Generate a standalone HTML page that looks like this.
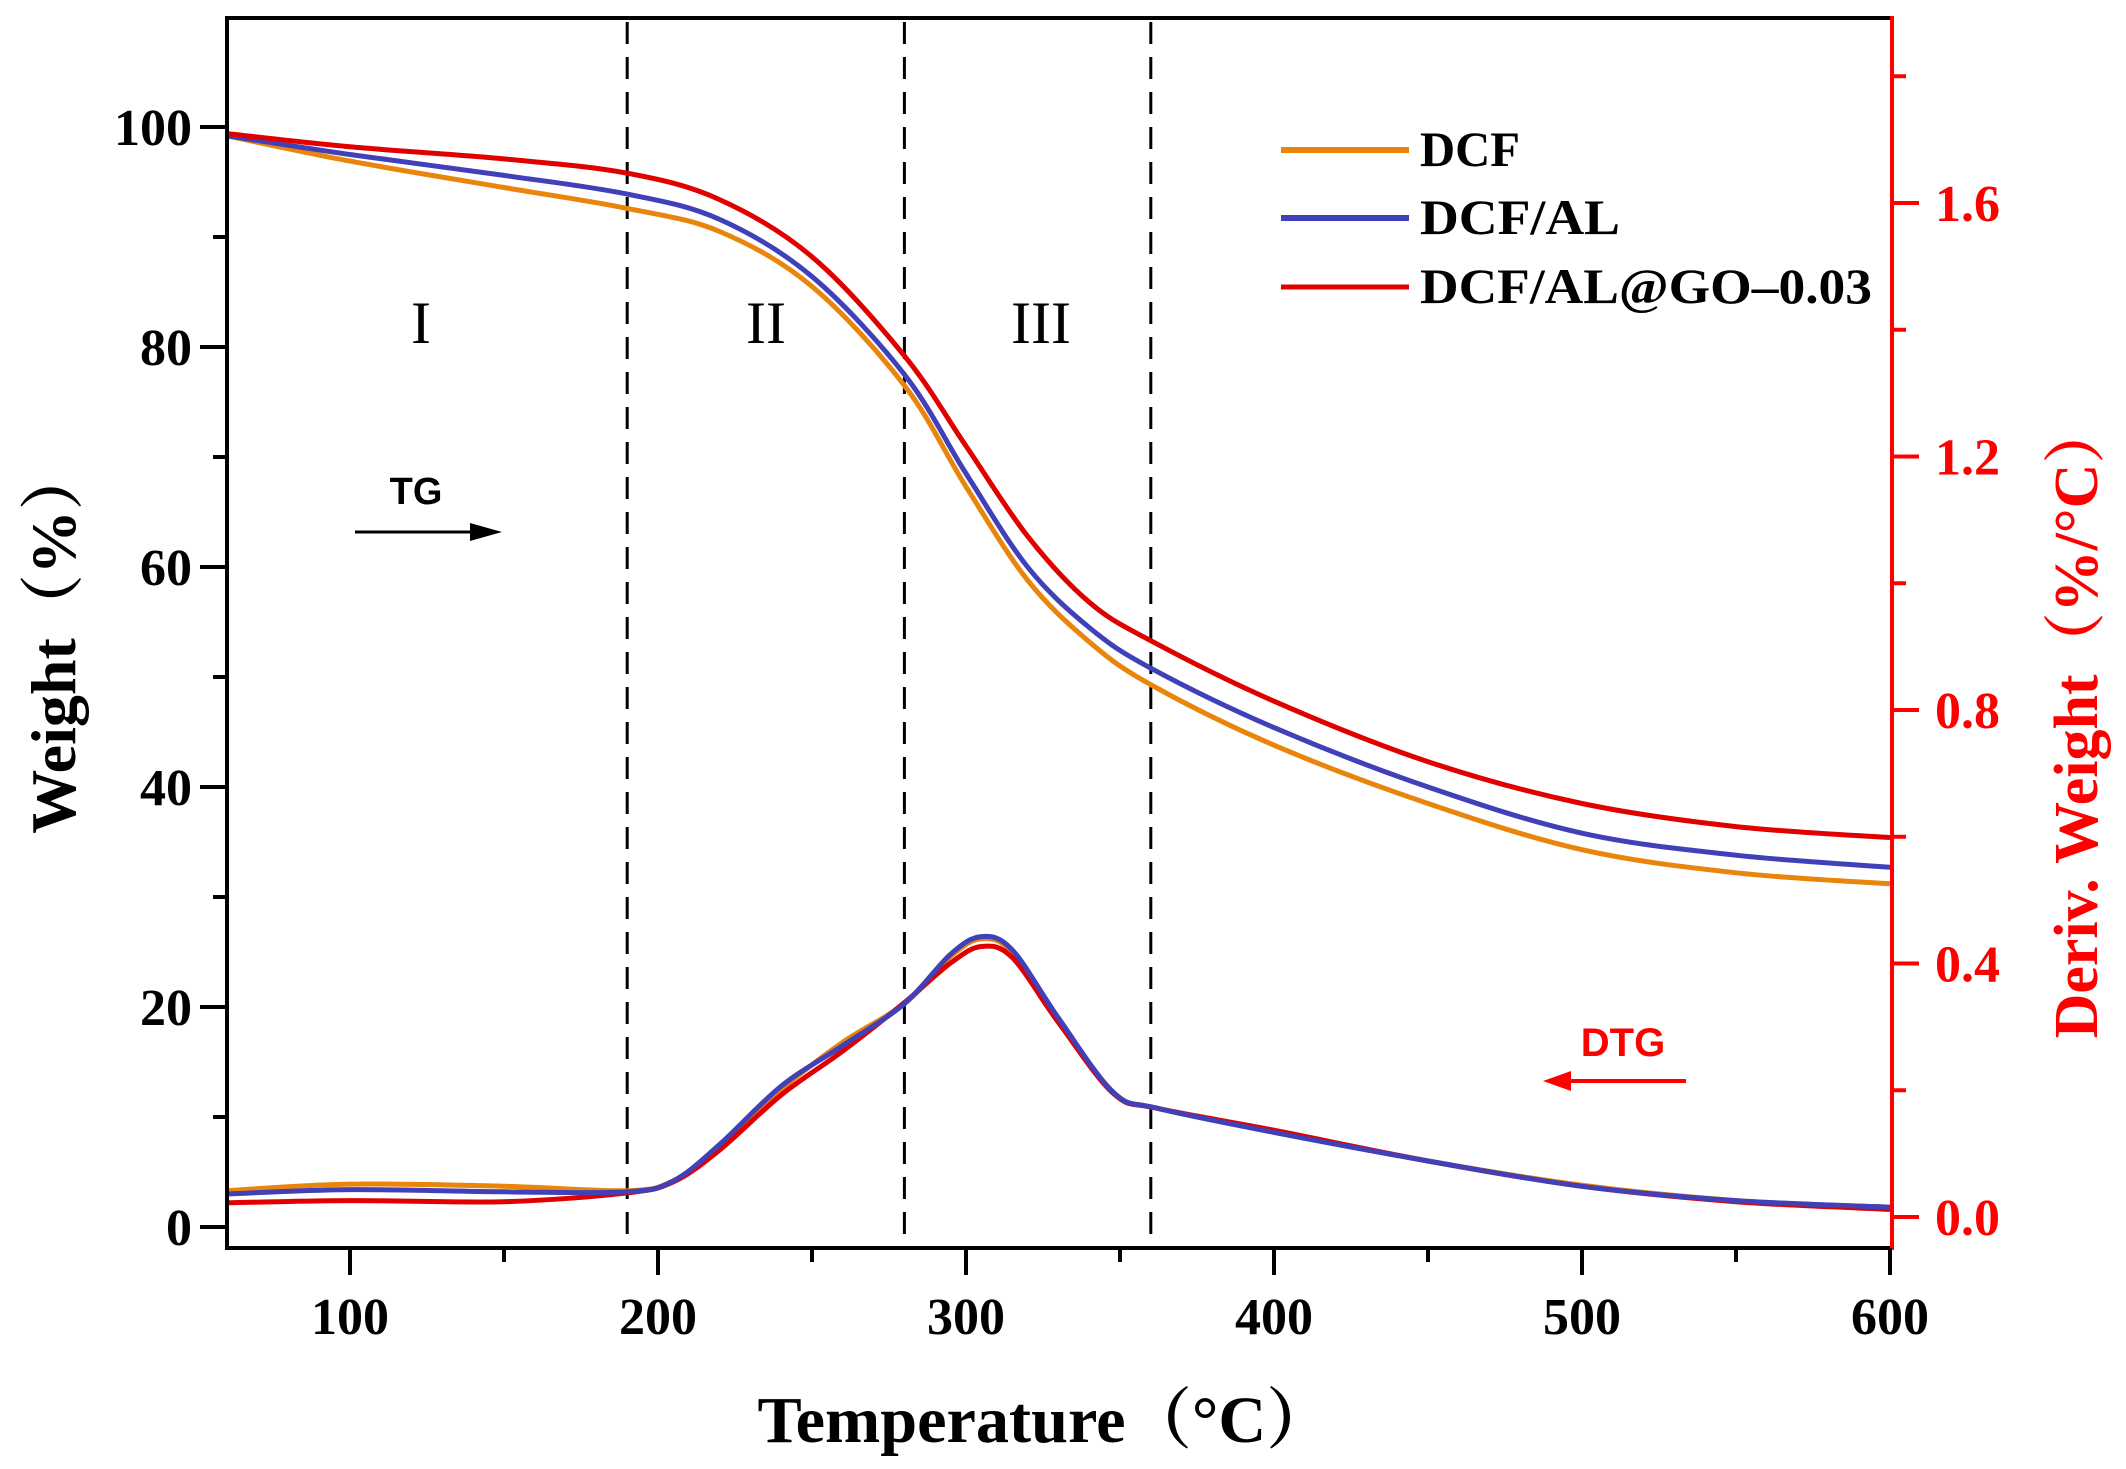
<!DOCTYPE html>
<html><head><meta charset="utf-8"><style>
html,body{margin:0;padding:0;background:#fff;}
svg{display:block}
.s{font-family:"Liberation Serif","Noto Serif CJK SC",serif;}
.a{font-family:"Liberation Sans",sans-serif;}
</style></head><body>
<svg id="s" width="2126" height="1469" viewBox="0 0 2126 1469" xmlns="http://www.w3.org/2000/svg">
<rect width="2126" height="1469" fill="#fff"/>
<g id="plot"></g>
<line x1="227" y1="18" x2="1892" y2="18" stroke="#000" stroke-width="4"/>
<line x1="227" y1="16" x2="227" y2="1250" stroke="#000" stroke-width="4"/>
<line x1="225" y1="1248" x2="1892" y2="1248" stroke="#000" stroke-width="4"/>
<line x1="1892" y1="16" x2="1892" y2="1250" stroke="#f00" stroke-width="4"/>
<g id="ticks" class="s"></g>
<line x1="1281" y1="150" x2="1409" y2="150" stroke="#e8850a" stroke-width="6"/>
<line x1="1281" y1="218" x2="1409" y2="218" stroke="#4040b8" stroke-width="6"/>
<line x1="1281" y1="287" x2="1409" y2="287" stroke="#e00000" stroke-width="5"/>
<g class="s" font-weight="bold" font-size="50">
<text x="1420" y="166" textLength="100" lengthAdjust="spacingAndGlyphs">DCF</text>
<text x="1420" y="234" textLength="200" lengthAdjust="spacingAndGlyphs">DCF/AL</text>
<text x="1420" y="303" textLength="452" lengthAdjust="spacingAndGlyphs">DCF/AL@GO–0.03</text>
</g>
<g class="s" font-size="60" text-anchor="middle">
<text x="421" y="343">I</text>
<text x="766" y="343">II</text>
<text x="1041" y="343">III</text>
</g>
<text class="a" x="416" y="504" font-weight="bold" font-size="38" text-anchor="middle">TG</text>
<line x1="355" y1="532" x2="480" y2="532" stroke="#000" stroke-width="3"/>
<polygon points="502,532 470,523 470,541" fill="#000"/>
<text class="a" x="1623" y="1056" font-weight="bold" font-size="40" fill="#f00" text-anchor="middle">DTG</text>
<line x1="1686" y1="1081" x2="1565" y2="1081" stroke="#f00" stroke-width="4"/>
<polygon points="1543,1081 1571,1071 1571,1091" fill="#f00"/>
<text class="s" x="1045" y="1442" font-weight="bold" font-size="66" text-anchor="middle" textLength="575" lengthAdjust="spacingAndGlyphs">Temperature（°C）</text>
<text class="s" transform="translate(75,640) rotate(-90)" font-weight="bold" font-size="64" text-anchor="middle">Weight（%）</text>
<text class="s" transform="translate(2097,720) rotate(-90)" font-weight="bold" font-size="62" fill="#f00" text-anchor="middle">Deriv. Weight（%/°C）</text>
</svg>
<script>
const NS="http://www.w3.org/2000/svg";
const X=t=>350+(t-100)*3.08, Y=w=>1227-11*w, YR=d=>1217-633.75*d;
function el(p,tag,a,txt){const e=document.createElementNS(NS,tag);for(const k in a)e.setAttribute(k,a[k]);if(txt!=null)e.textContent=txt;p.appendChild(e);return e;}
function path(pts){const P=pts.map(p=>[X(p[0]),Y(p[1])]);let d="M"+P[0][0]+","+P[0][1];
for(let i=0;i<P.length-1;i++){const p0=P[Math.max(0,i-1)],p1=P[i],p2=P[i+1],p3=P[Math.min(P.length-1,i+2)];
d+=` C${p1[0]+(p2[0]-p0[0])/6},${p1[1]+(p2[1]-p0[1])/6} ${p2[0]-(p3[0]-p1[0])/6},${p2[1]-(p3[1]-p1[1])/6} ${p2[0]},${p2[1]}`;}return d;}
const g=document.getElementById("plot"), tk=document.getElementById("ticks");
[190,280,360].forEach(t=>el(g,"line",{x1:X(t),y1:22,x2:X(t),y2:1246,stroke:"#000","stroke-width":3,"stroke-dasharray":"22,13"}));
const O="#e8850a",B="#4040b8",R="#e00000";
const tgO=[[60,99.2],[100,96.9],[150,94.5],[190,92.6],[220,90.5],[250,85.5],[280,76.5],[300,67.3],[320,58.8],[340,53.2],[360,49.3],[400,43.8],[450,38.5],[500,34.3],[550,32.2],[600,31.2]];
const tgB=[[60,99.2],[100,97.5],[150,95.6],[190,93.9],[220,91.6],[250,86.4],[280,77.5],[300,68.5],[320,60],[340,54.5],[360,50.8],[400,45.4],[450,40],[500,35.8],[550,33.8],[600,32.7]];
const tgR=[[60,99.4],[100,98.2],[150,97.1],[190,95.8],[220,93.4],[250,88.2],[280,79.2],[300,71],[320,62.8],[340,56.8],[360,53.3],[400,47.8],[450,42.3],[500,38.5],[550,36.4],[600,35.4]];
const dO=[[60,3.3],[100,3.9],[150,3.7],[190,3.3],[205,4.2],[220,7.3],[240,12.5],[260,16.8],[280,20.3],[295,24.6],[305,26.2],[315,25],[330,18.8],[348,12.2],[362,10.8],[400,8.7],[450,6],[500,3.8],[550,2.4],[600,1.8]];
const dB=[[60,3],[100,3.4],[150,3.2],[190,3.2],[205,4.2],[220,7.5],[240,12.8],[260,16.5],[280,20.3],[295,24.8],[305,26.4],[315,25.2],[330,19],[348,12.2],[362,10.8],[400,8.6],[450,6],[500,3.7],[550,2.4],[600,1.8]];
const dR=[[60,2.2],[100,2.4],[150,2.3],[190,3.1],[205,4.1],[220,7],[240,12],[260,16],[280,20.4],[295,24],[305,25.5],[315,24.5],[330,18.6],[348,12.1],[362,10.8],[400,8.8],[450,6],[500,3.7],[550,2.3],[600,1.6]];
[[dO,O],[dR,R],[dB,B],[tgO,O],[tgB,B],[tgR,R]].forEach(([d,c])=>el(g,"path",{d:path(d),fill:"none",stroke:c,"stroke-width":5}));
for(let t=100;t<=600;t+=50){const maj=t%100==0;el(tk,"line",{x1:X(t),y1:1248,x2:X(t),y2:1248+(maj?27:14),stroke:"#000","stroke-width":4});
if(maj)el(tk,"text",{x:X(t),y:1334,"font-size":52,"font-weight":"bold","text-anchor":"middle"},t);}
for(let w=0;w<=100;w+=10){const maj=w%20==0;el(tk,"line",{x1:227-(maj?27:14),y1:Y(w),x2:227,y2:Y(w),stroke:"#000","stroke-width":4});
if(maj)el(tk,"text",{x:192,y:Y(w)+18,"font-size":52,"font-weight":"bold","text-anchor":"end"},w);}
for(let i=0;i<=9;i++){const d=i*0.2,maj=i%2==0;el(tk,"line",{x1:1892,y1:YR(d),x2:1892+(maj?27:14),y2:YR(d),stroke:"#f00","stroke-width":4});
if(maj)el(tk,"text",{x:1935,y:YR(d)+18,"font-size":52,"font-weight":"bold",fill:"#f00"},d.toFixed(1));}
</script>
</body></html>
